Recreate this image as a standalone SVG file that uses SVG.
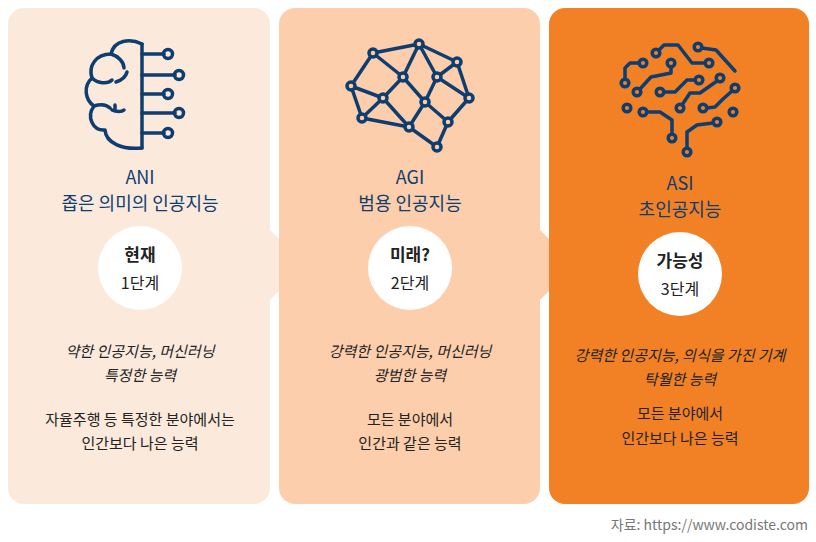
<svg xmlns="http://www.w3.org/2000/svg" width="816" height="542" viewBox="0 0 816 542">
<style>
text{font-family:"Noto Sans CJK KR","Noto Sans",sans-serif;text-anchor:middle;fill:#222}
.t{fill:#0e3d70;font-size:18px}
.b{font-size:17px;font-weight:bold}
.s{font-size:16px}
.i{font-size:15px;font-style:italic}
.n{font-size:15px}
.ic{fill:none;stroke:#0e3d70;stroke-width:3.5;stroke-linecap:round;stroke-linejoin:round}
</style>
<rect width="816" height="542" fill="#fff"/>
<g id="card1">
<rect x="8" y="8" width="262" height="496" rx="16" fill="#fbe9dc"/>
<path d="M268,228 L305,265 L268,302 Z" fill="#fbe9dc"/>
</g>
<g id="card2">
<rect x="279" y="8" width="261" height="496" rx="16" fill="#fcceab"/>
<path d="M538,228 L575,265 L538,302 Z" fill="#fcceab"/>
</g>
<g id="card3">
<rect x="549" y="8" width="260" height="496" rx="16" fill="#f28125"/>
</g>
<g id="icon1" class="ic">
<path d="M142,44 L142,148"/>
<path d="M142,44 C130,38 114,40 111,54 C96,54 88,66 92,78 C83,86 85,100 94,106 C86,117 93,131 105,130 C106,143 122,150 142,148"/>
<path d="M111,54 C118,56 124,62 124,68"/>
<path d="M92,78 C98,84 108,84 112,80 M116,82 C122,80 126,76 127,72"/>
<path d="M94,106 C100,104 106,104 110,108 M112,110 C116,112 122,112 124,110"/>
<path d="M115,110 L115,105"/>
<path d="M142,54 L164,54 M142,75 L175,75 M142,94 L164,94 M142,113 L175,113 M142,133 L164,133"/>
<circle cx="168" cy="54" r="4.5"/><circle cx="179" cy="75" r="4.5"/><circle cx="168" cy="94" r="4.5"/><circle cx="179" cy="113" r="4.5"/><circle cx="168" cy="133" r="4.5"/>
</g>
<g id="icon2" class="ic">
<path d="M373,53 L419,44 M373,53 L351,86 M373,53 L403,77 M419,44 L403,77 M419,44 L437,77 M419,44 L457,62 M457,62 L437,77 M457,62 L469,98 M437,77 L469,98 M437,77 L425,102 M403,77 L383,98 M403,77 L425,102 M351,86 L383,98 M351,86 L362,118 M383,98 L362,118 M383,98 L409,127 M362,118 L409,127 M425,102 L409,127 M425,102 L448,122 M469,98 L448,122 M448,122 L437,147 M409,127 L437,147"/>
<g fill="#fcceab"><circle cx="373" cy="53" r="4"/><circle cx="419" cy="44" r="4"/><circle cx="457" cy="62" r="4"/><circle cx="403" cy="77" r="4"/><circle cx="437" cy="77" r="4"/><circle cx="351" cy="86" r="4"/><circle cx="383" cy="98" r="4"/><circle cx="425" cy="102" r="4"/><circle cx="469" cy="98" r="4"/><circle cx="362" cy="118" r="4"/><circle cx="409" cy="127" r="4"/><circle cx="448" cy="122" r="4"/><circle cx="437" cy="147" r="4"/></g>
</g>
<g id="icon3" class="ic">
<path d="M659,50 L664,45 L678,45 L692,63 L705,63"/><circle cx="709" cy="63" r="3.8"/><circle cx="656" cy="53" r="3.8"/>
<path d="M702,48 L716,50 L735,71"/><circle cx="698" cy="47" r="3.8"/>
<path d="M625,79 L625,68 L630,63 L639,63"/><circle cx="643" cy="63" r="3.8"/><circle cx="625" cy="83" r="3.8"/>
<path d="M671,67 L671,73 L651,77 L640,89"/><circle cx="671" cy="63" r="3.8"/><circle cx="637" cy="92" r="3.8"/>
<path d="M695,80 L687,80 L675,92 L664,92"/><circle cx="699" cy="80" r="3.8"/><circle cx="660" cy="92" r="3.8"/>
<path d="M717,81 L700,93 L690,93 L682,105"/><circle cx="720" cy="78" r="3.8"/><circle cx="680" cy="108" r="3.8"/>
<path d="M732,91 L723,99 L715,107 L707,108"/><circle cx="735" cy="88" r="3.8"/><circle cx="703" cy="108" r="3.8"/>
<circle cx="627" cy="108" r="3.8"/>
<path d="M647,112 L660,112 L672,120 L672,134"/><circle cx="643" cy="112" r="3.8"/><circle cx="672" cy="138" r="3.8"/>
<circle cx="733" cy="112" r="3.8"/>
<path d="M713,123 L697,125 L687,132 L687,148"/><circle cx="717" cy="122" r="3.8"/><circle cx="687" cy="152" r="3.8"/>
</g>
<g id="text1">
<text class="t" x="140" y="184">ANI</text>
<text class="t" x="140" y="210">좁은 의미의 인공지능</text>
<circle cx="140" cy="268" r="42" fill="#fff"/>
<text class="b" x="140" y="261">현재</text>
<text class="s" x="140" y="289">1단계</text>
<text class="i" x="140" y="357">약한 인공지능, 머신러닝</text>
<text class="i" x="140" y="381">특정한 능력</text>
<text class="n" x="140" y="425">자율주행 등 특정한 분야에서는</text>
<text class="n" x="140" y="449">인간보다 나은 능력</text>
</g>
<g id="text2">
<text class="t" x="410" y="184">AGI</text>
<text class="t" x="410" y="210">범용 인공지능</text>
<circle cx="410" cy="268" r="42" fill="#fff"/>
<text class="b" x="410" y="261">미래?</text>
<text class="s" x="410" y="289">2단계</text>
<text class="i" x="410" y="357">강력한 인공지능, 머신러닝</text>
<text class="i" x="410" y="381">광범한 능력</text>
<text class="n" x="410" y="425">모든 분야에서</text>
<text class="n" x="410" y="449">인간과 같은 능력</text>
</g>
<g id="text3">
<text class="t" x="680" y="190">ASI</text>
<text class="t" x="680" y="216">초인공지능</text>
<circle cx="680" cy="274" r="42" fill="#fff"/>
<text class="b" x="680" y="267">가능성</text>
<text class="s" x="680" y="295">3단계</text>
<text class="i" x="680" y="361">강력한 인공지능, 의식을 가진 기계</text>
<text class="i" x="680" y="385">탁월한 능력</text>
<text class="n" x="680" y="419">모든 분야에서</text>
<text class="n" x="680" y="444">인간보다 나은 능력</text>
</g>
<text x="808" y="530" style="text-anchor:end;font-size:14px;fill:#777">자료: https://www.codiste.com</text>
</svg>
